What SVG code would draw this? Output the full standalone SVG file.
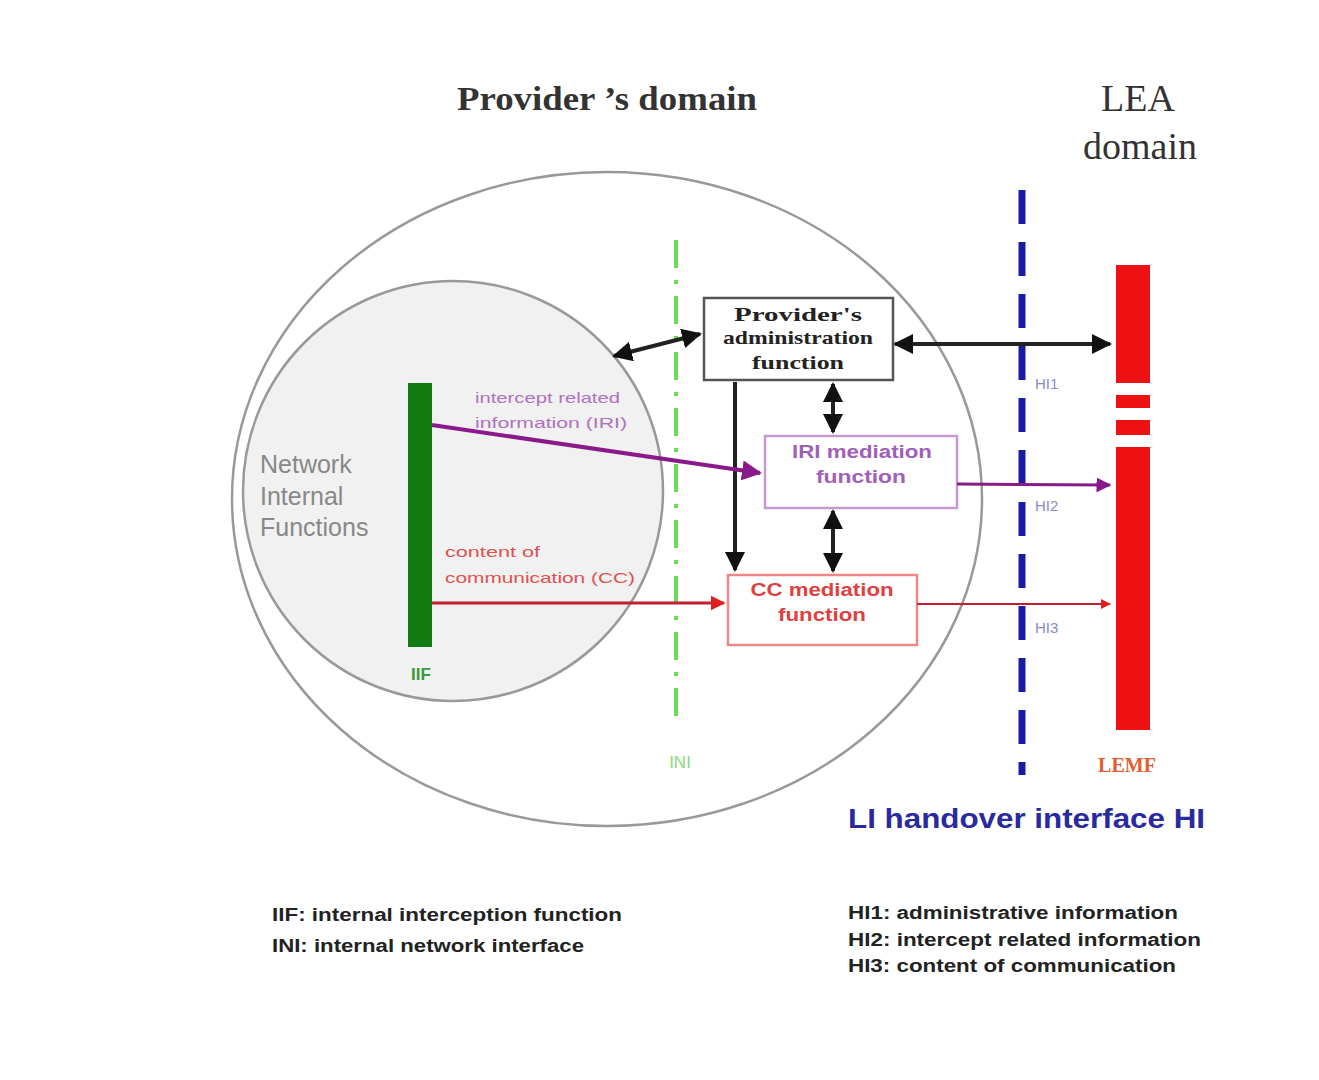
<svg xmlns="http://www.w3.org/2000/svg" width="1319" height="1080" viewBox="0 0 1319 1080">
<style>
.serif{font-family:"Liberation Serif","DejaVu Serif",serif}
.sans{font-family:"Liberation Sans","DejaVu Sans",sans-serif}
.title{font-size:33px;font-weight:bold;fill:#333}
.lea{font-size:38px;fill:#333}
.box{fill:#fff;stroke-width:2.5}
.blk{stroke:#222;stroke-width:4;fill:none}
.leg{font-size:18px;font-weight:bold;fill:#222}
.hi{font-size:15px;fill:#8a8ac8}
</style>
<defs>
<marker id="ak" viewBox="0 0 10 10" refX="9" refY="5" markerWidth="5" markerHeight="5" orient="auto-start-reverse"><path d="M0,0L10,5L0,10z" fill="#111"/></marker>
<marker id="ap" viewBox="0 0 10 10" refX="9" refY="5" markerWidth="5" markerHeight="5" orient="auto"><path d="M0,0L10,5L0,10z" fill="#8a1a8a"/></marker>
<marker id="ar" viewBox="0 0 10 10" refX="9" refY="5" markerWidth="5" markerHeight="5" orient="auto"><path d="M0,0L10,5L0,10z" fill="#e02020"/></marker>
</defs>
<rect width="1319" height="1080" fill="#fff"/>
<text class="serif title" x="457" y="110" textLength="300" lengthAdjust="spacingAndGlyphs">Provider ’s domain</text>
<text class="serif lea" x="1138" y="111" text-anchor="middle">LEA</text>
<text class="serif lea" x="1140" y="159" text-anchor="middle">domain</text>

<g id="provider-domain"><ellipse cx="607" cy="499" rx="375" ry="327" fill="none" stroke="#999" stroke-width="2.5"/></g>
<g id="network-internal"><circle cx="453" cy="491" r="210" fill="#f1f1f1" stroke="#999" stroke-width="2.5"/>
<text class="sans" font-size="25" fill="#888" x="260" y="473">Network</text>
<text class="sans" font-size="25" fill="#888" x="260" y="505">Internal</text>
<text class="sans" font-size="25" fill="#888" x="260" y="536">Functions</text></g>

<g id="iif"><rect x="408" y="383" width="24" height="264" fill="#117a11"/>
<text class="sans" font-size="17" font-weight="bold" fill="#3a9a3a" x="421" y="680" text-anchor="middle">IIF</text></g>

<g id="ini"><line x1="676" y1="240" x2="676" y2="728" stroke="#66dd55" stroke-width="4" stroke-dasharray="28,12,4,12"/>
<text class="sans" font-size="17" fill="#88dd77" x="680" y="768" text-anchor="middle">INI</text></g>

<g id="hi-line"><line x1="1022" y1="190" x2="1022" y2="775" stroke="#1a1aa8" stroke-width="7" stroke-dasharray="34,18"/>
<text class="sans hi" x="1035" y="389">HI1</text>
<text class="sans hi" x="1035" y="511">HI2</text>
<text class="sans hi" x="1035" y="633">HI3</text>
<text class="sans" font-size="27" font-weight="bold" fill="#2a2aa0" x="848" y="828" textLength="357" lengthAdjust="spacingAndGlyphs">LI handover interface HI</text></g>

<g id="lemf"><rect x="1116" y="265" width="34" height="118" fill="#ee1111"/>
<rect x="1116" y="395" width="34" height="13" fill="#ee1111"/>
<rect x="1116" y="420" width="34" height="15" fill="#ee1111"/>
<rect x="1116" y="447" width="34" height="283" fill="#ee1111"/>
<text class="serif" font-size="20" font-weight="bold" fill="#e06030" x="1127" y="772" text-anchor="middle">LEMF</text></g>

<g id="admin"><rect class="box" x="704" y="298" width="189" height="82" stroke="#555"/>
<text class="serif" font-size="19" font-weight="bold" fill="#222" x="798" y="321" text-anchor="middle" textLength="128" lengthAdjust="spacingAndGlyphs">Provider's</text>
<text class="serif" font-size="19" font-weight="bold" fill="#222" x="798" y="344" text-anchor="middle" textLength="150" lengthAdjust="spacingAndGlyphs">administration</text>
<text class="serif" font-size="19" font-weight="bold" fill="#222" x="798" y="369" text-anchor="middle" textLength="92" lengthAdjust="spacingAndGlyphs">function</text></g>

<g id="iri-med"><rect class="box" x="765" y="436" width="192" height="72" stroke="#c59ad0"/>
<text class="sans" font-size="18" font-weight="bold" fill="#a060b8" x="862" y="458" text-anchor="middle" textLength="140" lengthAdjust="spacingAndGlyphs">IRI mediation</text>
<text class="sans" font-size="18" font-weight="bold" fill="#a060b8" x="861" y="483" text-anchor="middle" textLength="90" lengthAdjust="spacingAndGlyphs">function</text></g>

<g id="cc-med"><rect class="box" x="728" y="575" width="189" height="70" stroke="#ee8888"/>
<text class="sans" font-size="18" font-weight="bold" fill="#e04040" x="822" y="596" text-anchor="middle" textLength="143" lengthAdjust="spacingAndGlyphs">CC mediation</text>
<text class="sans" font-size="18" font-weight="bold" fill="#e04040" x="822" y="621" text-anchor="middle" textLength="88" lengthAdjust="spacingAndGlyphs">function</text></g>

<g id="connectors">
<line class="blk" x1="614" y1="356" x2="700" y2="334" marker-start="url(#ak)" marker-end="url(#ak)"/>
<line class="blk" x1="895" y1="344" x2="1110" y2="344" marker-start="url(#ak)" marker-end="url(#ak)"/>
<line class="blk" x1="735" y1="382" x2="735" y2="570" marker-end="url(#ak)"/>
<line class="blk" x1="833" y1="384" x2="833" y2="432" marker-start="url(#ak)" marker-end="url(#ak)"/>
<line class="blk" x1="833" y1="511" x2="833" y2="571" marker-start="url(#ak)" marker-end="url(#ak)"/>
<line x1="432" y1="425" x2="760" y2="473" stroke="#8a1a8a" stroke-width="4" marker-end="url(#ap)"/>
<line x1="957" y1="484" x2="1110" y2="485" stroke="#8a1a8a" stroke-width="3" marker-end="url(#ap)"/>
<line x1="432" y1="603" x2="724" y2="603" stroke="#c02030" stroke-width="3" marker-end="url(#ar)"/>
<line x1="917" y1="604" x2="1110" y2="604" stroke="#c02030" stroke-width="2" marker-end="url(#ar)"/>
<text class="sans" font-size="15" fill="#b070c0" x="475" y="403" textLength="145" lengthAdjust="spacingAndGlyphs">intercept related</text>
<text class="sans" font-size="15" fill="#b070c0" x="475" y="428" textLength="152" lengthAdjust="spacingAndGlyphs">information (IRI)</text>
<text class="sans" font-size="15" fill="#e05050" x="445" y="557" textLength="95" lengthAdjust="spacingAndGlyphs">content of</text>
<text class="sans" font-size="15" fill="#e05050" x="445" y="583" textLength="190" lengthAdjust="spacingAndGlyphs">communication (CC)</text>
</g>

<g id="legend">
<text class="sans leg" x="272" y="921" textLength="350" lengthAdjust="spacingAndGlyphs">IIF: internal interception function</text>
<text class="sans leg" x="272" y="952" textLength="312" lengthAdjust="spacingAndGlyphs">INI: internal network interface</text>
<text class="sans leg" x="848" y="919" textLength="330" lengthAdjust="spacingAndGlyphs">HI1: administrative information</text>
<text class="sans leg" x="848" y="946" textLength="353" lengthAdjust="spacingAndGlyphs">HI2: intercept related information</text>
<text class="sans leg" x="848" y="972" textLength="328" lengthAdjust="spacingAndGlyphs">HI3: content of communication</text>
</g>
</svg>
